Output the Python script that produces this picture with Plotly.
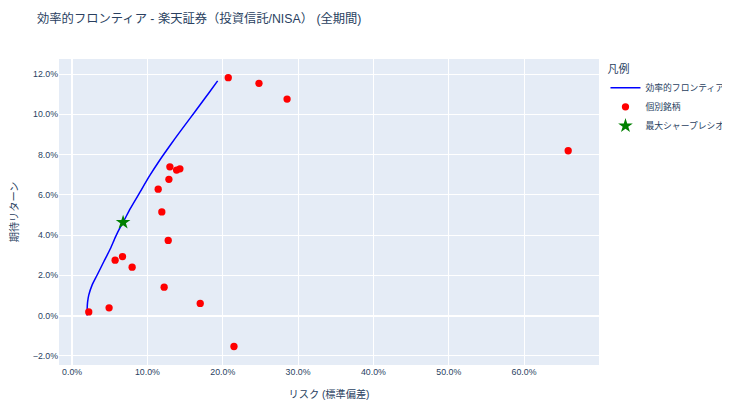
import plotly.graph_objects as go

# Efficient frontier (risk %, return %)
frontier_risk = [1.98, 2.00, 2.05, 2.21, 2.65, 3.31, 4.20, 5.09, 5.76, 6.42, 6.77, 7.70, 8.99,
                 10.30, 11.65, 13.00, 14.31, 15.65, 16.97, 18.15, 19.32]
frontier_ret = [0.00, 0.35, 0.65, 1.01, 1.51, 2.00, 2.67, 3.33, 3.91, 4.41, 4.63, 5.30, 6.12,
                6.95, 7.73, 8.45, 9.13, 9.80, 10.46, 11.06, 11.66]

# Individual assets (risk %, return %)
asset_risk = [20.73, 24.81, 28.54, 12.98, 13.87, 14.31, 12.85, 11.43, 11.91, 12.76,
              5.71, 6.69, 7.97, 12.22, 17.01, 2.21, 4.91, 21.49, 65.86]
asset_ret = [11.82, 11.54, 10.76, 7.39, 7.23, 7.29, 6.77, 6.28, 5.15, 3.73,
             2.75, 2.93, 2.40, 1.41, 0.60, 0.18, 0.38, -1.54, 8.19]

# Max Sharpe portfolio
sharpe_risk = [6.77]
sharpe_ret = [4.63]

def pct(v):
    return [x / 100 for x in v]

FONT = "Liberation Sans, Noto Sans CJK JP, sans-serif"

fig = go.Figure()
fig.add_trace(go.Scatter(x=pct(frontier_risk), y=pct(frontier_ret), mode="lines",
                         name="効率的フロンティア",
                         line=dict(color="blue", width=1.5, shape="spline", smoothing=0.6)))
fig.add_trace(go.Scatter(x=pct(asset_risk), y=pct(asset_ret), mode="markers",
                         name="個別銘柄", marker=dict(color="red", size=7.3)))
fig.add_trace(go.Scatter(x=pct(sharpe_risk), y=pct(sharpe_ret), mode="markers",
                         name="最大シャープレシオ",
                         marker=dict(color="green", size=11, symbol="star")))

fig.update_layout(
    width=722, height=402,
    template="plotly",
    font=dict(family=FONT, size=8.8),
    title=dict(text="効率的フロンティア - 楽天証券（投資信託/NISA） (全期間)",
               font=dict(size=12.3),
               x=0.0402, xanchor="left", y=0.974, yanchor="middle"),
    margin=dict(l=51, r=131, t=51, b=45, autoexpand=False),
    legend=dict(title=dict(text="凡例"), x=1.012, xanchor="left", y=1, yanchor="top",
                itemwidth=30),
    xaxis=dict(title=dict(text="リスク (標準偏差)", font=dict(size=10.2)), tickformat=".1%",
               range=[-0.0174, 0.6995], dtick=0.1, automargin=False),
    yaxis=dict(title=dict(text="期待リターン", font=dict(size=10.2)), tickformat=".1%",
               range=[-0.0246, 0.1275], dtick=0.02, automargin=False),
)

fig.write_html("out.html")
